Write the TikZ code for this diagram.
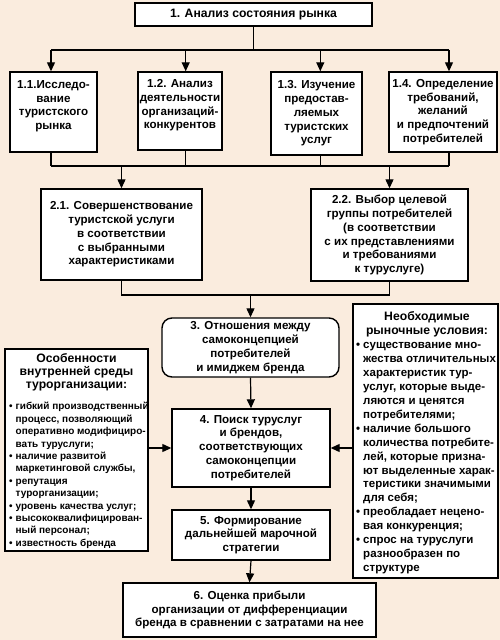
\documentclass[tikz,border=0pt]{standalone}
\usepackage{fontspec}
\setmainfont{Liberation Sans}
\usetikzlibrary{arrows.meta}
\definecolor{bg}{RGB}{250,236,222}
\newcommand\mainfnt{\fontsize{11.6}{13.8}\selectfont\bfseries}
\newcommand\leftfnt{\fontsize{10}{12.4}\selectfont\bfseries}
\newcommand\rightfnt{\fontsize{11.5}{13.9}\selectfont\bfseries}
\begin{document}
\begin{tikzpicture}[x=1pt,y=-1pt,
  box/.style={draw,line width=1.4pt,fill=white,inner sep=0pt,align=center,font=\mainfnt},
  frame/.style={draw,line width=1.4pt,fill=white,inner sep=0pt},
  txt/.style={inner sep=0pt,align=center},
  ln/.style={line width=1.2pt},
  arr/.style={line width=1.2pt,-{Triangle[length=9pt,width=8pt]}},
]
\fill[bg] (0,0) rectangle (500,640);
\useasboundingbox (0,0) rectangle (500,640);

% level 1
\node[box,minimum width=237pt,minimum height=23pt,font=\fontsize{12.2}{13.8}\selectfont\bfseries] (n1) at (253.5,14.5) {1. Анализ состояния рынка};

\node[box,minimum width=87pt,minimum height=80pt] (n11) at (53.5,112) {1.1.Исследо-\\вание\\туристского\\рынка\\\mbox{}};
\node[box,minimum width=84pt,minimum height=78pt] (n12) at (180,111) {1.2. Анализ\\деятельности\\организаций-\\конкурентов\\\mbox{}};
\node[box,minimum width=91pt,minimum height=83pt] (n13) at (316.5,113.5) {1.3. Изучение\\предостав-\\ляемых\\туристских\\услуг};
\node[box,minimum width=108pt,minimum height=80pt] (n14) at (443,112) {1.4. Определение\\требований,\\желаний\\и предпочтений\\потребителей};

% level 2
\node[box,minimum width=161pt,minimum height=91pt] (n21) at (121.5,234.5) {2.1. Совершенствование\\туристской услуги\\в соответствии\\с выбранными\\характеристиками};
\node[box,minimum width=157pt,minimum height=92pt] (n22) at (389.5,235) {2.2. Выбор целевой\\группы потребителей\\(в соответствии\\с их представлениями\\и требованиями\\к туруслуге)};

% center column
\node[box,rounded corners=10pt,minimum width=177pt,minimum height=59pt] (n3) at (250.5,347.5) {3. Отношения между\\самоконцепцией\\потребителей\\и имиджем бренда};
\node[box,minimum width=158pt,minimum height=78pt] (n4) at (251,448) {4. Поиск туруслуг\\и брендов,\\соответствующих\\самоконцепции\\потребителей};
\node[box,minimum width=158pt,minimum height=50pt] (n5) at (251,535) {5. Формирование\\дальнейшей марочной\\стратегии};
\node[box,minimum width=253pt,minimum height=54pt] (n6) at (249.5,610) {6. Оценка прибыли\\организации от дифференциации\\бренда в сравнении с затратами на нее};

% left box
\node[frame,minimum width=143pt,minimum height=202pt] (L) at (76.5,450) {};
\node[txt,anchor=north,font=\fontsize{12.2}{13.4}\selectfont\bfseries] (Lh) at (76.5,353) {Особенности\\внутренней среды\\турорганизации:};
\node[txt,anchor=north west,font=\leftfnt] (Lb) at (9,401) {\begin{tabular}{@{}l@{\hspace{3pt}}l@{}}
•&гибкий производственный\\
&процесс, позволяющий\\
&оперативно модифициро-\\
&вать туруслуги;\\
•&наличие развитой\\
&маркетинговой службы,\\
•&репутация\\
&турорганизации;\\
•&уровень качества услуг;\\
•&высококвалифицирован-\\
&ный персонал;\\
•&известность бренда
\end{tabular}};

% right box
\node[frame,minimum width=145pt,minimum height=274pt] (R) at (425.5,441) {};
\node[txt,anchor=north,font=\fontsize{12.2}{13.9}\selectfont\bfseries] (Rh) at (427,311) {Необходимые\\рыночные условия:};
\node[txt,anchor=north west,font=\rightfnt] (Rb) at (356,339) {\begin{tabular}{@{}l@{\hspace{3pt}}l@{}}
•&существование мно-\\
&жества отличительных\\
&характеристик тур-\\
&услуг, которые выде-\\
&ляются и ценятся\\
&потребителями;\\
•&наличие большого\\
&количества потребите-\\
&лей, которые призна-\\
&ют выделенные харак-\\
&теристики значимыми\\
&для себя;\\
•&преобладает нецено-\\
&вая конкуренция;\\
•&спрос на туруслуги\\
&разнообразен по\\
&структуре
\end{tabular}};

% connectors level 1
\coordinate (b1) at (51,50);
\coordinate (b2) at (185.7,50);
\coordinate (b3) at (320.3,50);
\coordinate (b4) at (449,50);
\draw[ln] (n1.south) -- (n1.south |- b1);
\draw[ln] (b1) -- (b4);
\draw[arr] (b1) -- (b1 |- n11.north);
\draw[arr] (b2) -- (b2 |- n12.north);
\draw[arr] (b3) -- (b3 |- n13.north);
\draw[arr] (b4) -- (b4 |- n14.north);

\coordinate (c1) at (51,166);
\coordinate (c2) at (185.7,166);
\coordinate (c3) at (320.3,166);
\coordinate (c4) at (449,166);
\draw[ln] (c1 |- n11.south) -- (c1);
\draw[ln] (c2 |- n12.south) -- (c2);
\draw[ln] (c3 |- n13.south) -- (c3);
\draw[ln] (c4 |- n14.south) -- (c4);
\draw[ln] (c1) -- (c4);
\draw[arr] (n21.north |- c1) -- (n21.north);
\draw[arr] (n22.north |- c1) -- (n22.north);

% connectors level 2
\coordinate (d) at (0,295);
\draw[ln] (n21.south) -- (n21.south |- d) -- (n22.south |- d) -- (n22.south);
\draw[arr] (n3.north |- d) -- (n3.north);
\draw[arr] (n3.south) -- (n4.north);
\draw[arr] (n4.south) -- (n5.north);
\draw[arr] (n5.south) -- (n6.north);
\draw[arr] (L.east |- n4) -- (n4.west);
\draw[arr] (R.west |- n4) -- (n4.east);
\end{tikzpicture}
\end{document}
